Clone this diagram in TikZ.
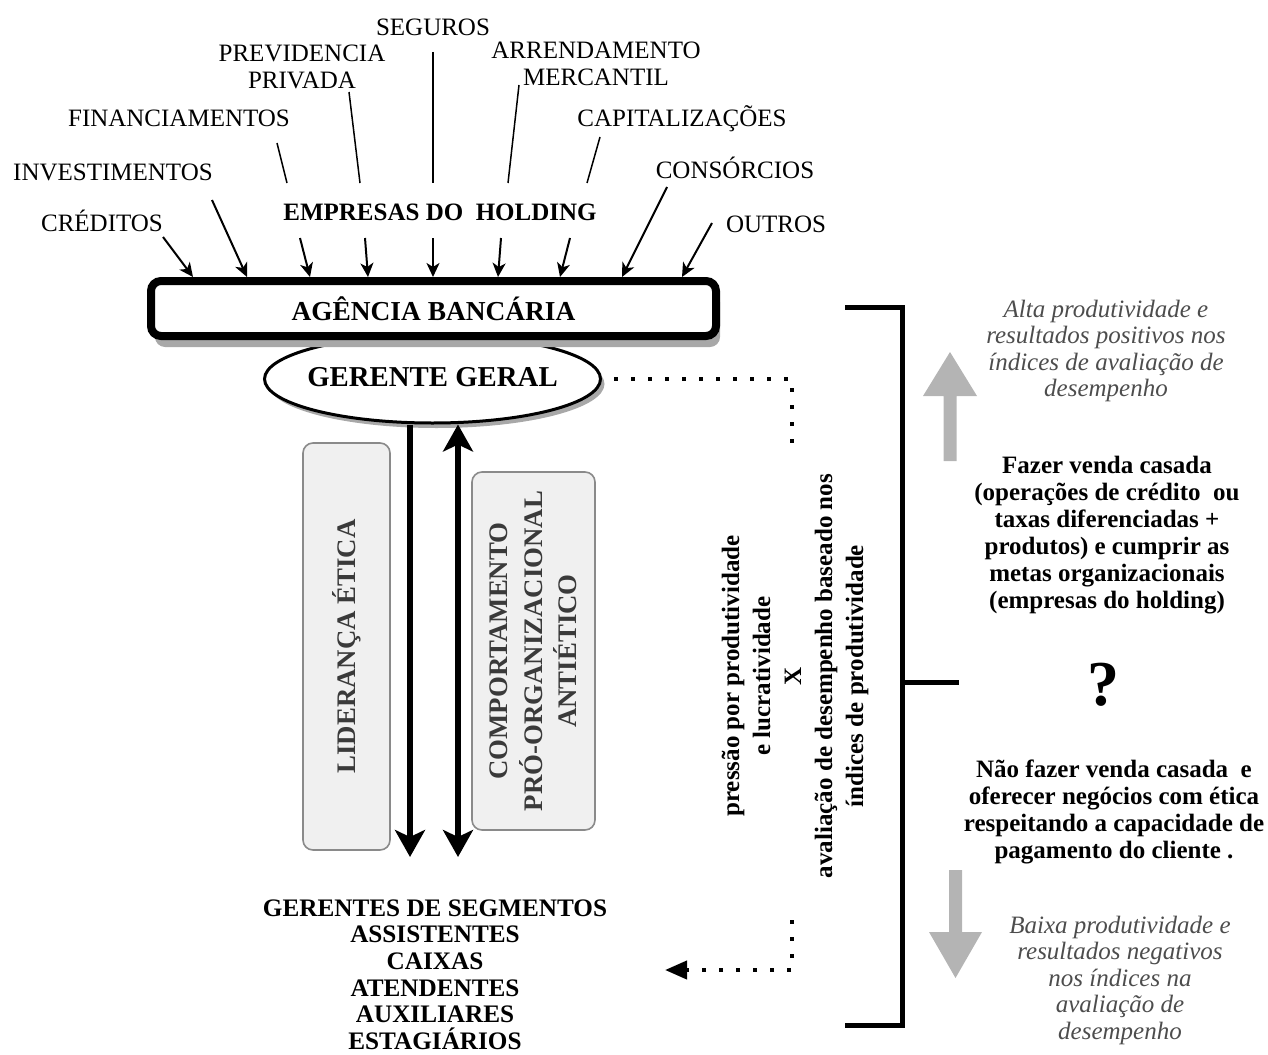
\documentclass[tikz,border=0pt]{standalone}
\usepackage{fontspec}
\setmainfont{Liberation Serif}
\usetikzlibrary{arrows.meta,shadows,shapes.geometric}
\definecolor{italgray}{HTML}{4D4D4D}
\definecolor{boxtext}{HTML}{3A3A3A}
\definecolor{boxfill}{HTML}{F0F0F0}
\definecolor{boxline}{HTML}{8A8A8A}
\definecolor{arrowgray}{HTML}{B4B4B4}
\definecolor{shadowgray}{HTML}{A8A8A8}
\begin{document}
\begin{tikzpicture}[x=0.5pt,y=-0.5pt,
  caplbl/.style={font=\fontsize{12.5}{13.5}\selectfont, inner sep=0pt, text height=8.3pt, text depth=0pt},
  multi/.style={inner sep=0pt, align=center},
  regfont/.style={font=\fontsize{12.5}{13.5}\selectfont},
  boldfont/.style={font=\fontsize{12.5}{13.5}\selectfont\bfseries},
  italfont/.style={font=\fontsize{12.5}{13.25}\selectfont\itshape, text=italgray},
  feed/.style={line width=1pt, -{Stealth[length=7pt,width=6.5pt,inset=2pt]}},
  tie/.style={line width=0.75pt},
  bigarr/.style={line width=2.8pt, -{Stealth[length=13.5pt,width=15pt,inset=3.5pt]}},
  bigdbl/.style={line width=2.8pt, {Stealth[length=13.5pt,width=15pt,inset=3.5pt]}-{Stealth[length=13.5pt,width=15pt,inset=3.5pt]}},
  gbox/.style={draw=boxline, fill=boxfill, line width=0.8pt, rounded corners=5pt, inner sep=0pt, text=boxtext, font=\fontsize{13.4}{17.25}\selectfont\bfseries, rotate=90},
  dots/.style={line width=2pt, line cap=butt, dash pattern=on 2pt off 6.5pt},
  bracket/.style={line width=2.5pt},
  garrow/.style={fill=arrowgray}
]
\useasboundingbox (0,0) rectangle (1268,1054);

% ---- top labels ----
\node[caplbl] (seg) at (433,27) {SEGUROS};
\node[multi, regfont] (prev) at (302,66.5) {PREVIDENCIA\\PRIVADA};
\node[multi, regfont] (arr) at (596,63.5) {ARRENDAMENTO\\MERCANTIL};
\node[caplbl] (fin) at (179,118) {FINANCIAMENTOS};
\node[caplbl] (capz) at (682,118) {CAPITALIZAÇÕES};
\node[caplbl] (inv) at (113,172) {INVESTIMENTOS};
\node[caplbl] (cons) at (735,170) {CONSÓRCIOS};
\node[caplbl] (cred) at (102,223) {CRÉDITOS};
\node[caplbl] (outr) at (776,224) {OUTROS};
\node[caplbl, font=\fontsize{12.5}{13.5}\selectfont\bfseries] (emp) at (440,212) {EMPRESAS DO~~HOLDING};

% ---- upper tie lines ----
\coordinate (t1a) at (277,143); \coordinate (t1b) at (287,183);
\coordinate (t2a) at (349,92);  \coordinate (t2b) at (360,183);
\coordinate (t3a) at (433,52);  \coordinate (t3b) at (433,183);
\coordinate (t4a) at (519,85);  \coordinate (t4b) at (508,183);
\coordinate (t5a) at (600,137); \coordinate (t5b) at (587,183);
\draw[tie] (t1a) -- (t1b);
\draw[tie] (t2a) -- (t2b);
\draw[tie] (t3a) -- (t3b);
\draw[tie] (t4a) -- (t4b);
\draw[tie] (t5a) -- (t5b);

% ---- ellipse (gerente geral) ----
\node[ellipse, draw, line width=1.5pt, fill=white, minimum width=168pt, minimum height=44pt, inner sep=0pt,
      drop shadow={shadow xshift=2pt, shadow yshift=-2.5pt, fill=shadowgray, opacity=1},
      label={[font=\fontsize{14.4}{15}\selectfont\bfseries, text height=9.5pt, text depth=0pt, inner sep=0pt, yshift=1pt]center:GERENTE GERAL}]
      (gg) at (432.5,379) {};

% ---- agencia bancaria box ----
\node[draw, line width=4pt, rounded corners=5pt, fill=white, minimum width=282.5pt, minimum height=27.5pt, inner sep=0pt,
      text height=9pt, text depth=0pt, font=\fontsize{13.7}{15}\selectfont\bfseries,
      drop shadow={shadow xshift=2pt, shadow yshift=-5.5pt, fill=shadowgray, opacity=1}]
      (ab) at (433.5,308.5) {\raisebox{-1.5pt}{AGÊNCIA BANCÁRIA}};

% ---- feed arrows into the agency ----
\coordinate (a1) at (163,237); \coordinate (b1) at (193,277);
\coordinate (a2) at (212,200); \coordinate (b2) at (247,277);
\coordinate (a3) at (300,238); \coordinate (b3) at (310,277);
\coordinate (a4) at (365,238); \coordinate (b4) at (368,277);
\coordinate (a5) at (433,238); \coordinate (b5) at (433,277);
\coordinate (a6) at (501,238); \coordinate (b6) at (498,277);
\coordinate (a7) at (570,238); \coordinate (b7) at (560,277);
\coordinate (a8) at (667,187); \coordinate (b8) at (622,277);
\coordinate (a9) at (712,223); \coordinate (b9) at (682,277);
\foreach \i in {1,...,9} { \draw[feed] (a\i) -- (b\i); }

% ---- gray boxes ----
\node[gbox, minimum width=203.5pt, minimum height=43.5pt, text height=8.9pt, text depth=0pt] (lid) at (346.5,646.5) {LIDERANÇA ÉTICA};
\node[gbox, align=center, minimum width=179pt, minimum height=61.5pt] (comp) at (533.5,651) {COMPORTAMENTO\\PRÓ-ORGANIZACIONAL\\ANTIÉTICO};

% ---- vertical arrows ----
\coordinate (dA) at (410,857);
\coordinate (uB) at (458,857);
\draw[bigarr] (gg.south -| dA) -- (dA);
\draw[bigdbl] (gg.south -| uB) -- (uB);

% ---- staff list ----
\node[multi, font=\fontsize{12.6}{13.3}\selectfont\bfseries] (staff) at (435,974.5)
  {GERENTES DE SEGMENTOS\\ASSISTENTES\\CAIXAS\\ATENDENTES\\AUXILIARES\\ESTAGIÁRIOS};

% ---- dotted connectors ----
\coordinate (d1) at (792,379);
\coordinate (d2) at (792,444);
\draw[dots, dash phase=2.5pt] (gg.east) -- (d1) -- (d2);
\coordinate (d3) at (792,920);
\coordinate (d4) at (792,970);
\coordinate (d5) at (665,970);
\draw[dots, -{Triangle[length=11pt,width=9pt]}] (d3) -- (d4) -- (d5);

% ---- rotated central text ----
\node[multi, rotate=90, font=\fontsize{12.5}{15.5}\selectfont\bfseries] (press) at (795,676)
  {pressão por produtividade\\e lucratividade\\X\\avaliação de desempenho baseado nos\\índices de produtividade};

% ---- bracket ----
\coordinate (k1) at (845,307); \coordinate (k2) at (902,307);
\coordinate (k3) at (902,1025); \coordinate (k4) at (845,1025);
\coordinate (k5) at (902,682); \coordinate (k6) at (959,682);
\draw[bracket] (k1) -- (k2) -- (k3) -- (k4);
\draw[bracket] (k5) -- (k6);

% ---- right side ----
\node[multi, italfont] (alta) at (1106,351) {Alta produtividade e\\resultados positivos nos\\índices de avaliação de\\desempenho};
\fill[garrow] (943.5,461) -- (943.5,396) -- (923,396) -- (950,352) -- (977,396) -- (956.5,396) -- (956.5,461) -- cycle;
\node[multi, boldfont] (faz) at (1107,535.5) {Fazer venda casada\\(operações de crédito~~ou\\taxas diferenciadas +\\produtos) e cumprir as\\metas organizacionais\\(empresas do holding)};
\node[inner sep=0pt, font=\fontsize{32}{34}\selectfont\bfseries] (q) at (1103,685) {?};
\node[multi, boldfont] (nao) at (1114,812) {Não fazer venda casada~~e\\oferecer negócios com ética\\respeitando a capacidade de\\pagamento do cliente .};
\fill[garrow] (949,870) -- (949,932) -- (929,932) -- (955.5,978) -- (982,932) -- (962,932) -- (962,870) -- cycle;
\node[multi, italfont] (baixa) at (1120,980) {Baixa produtividade e\\resultados negativos\\nos índices na\\avaliação de\\desempenho};
\end{tikzpicture}
\end{document}
